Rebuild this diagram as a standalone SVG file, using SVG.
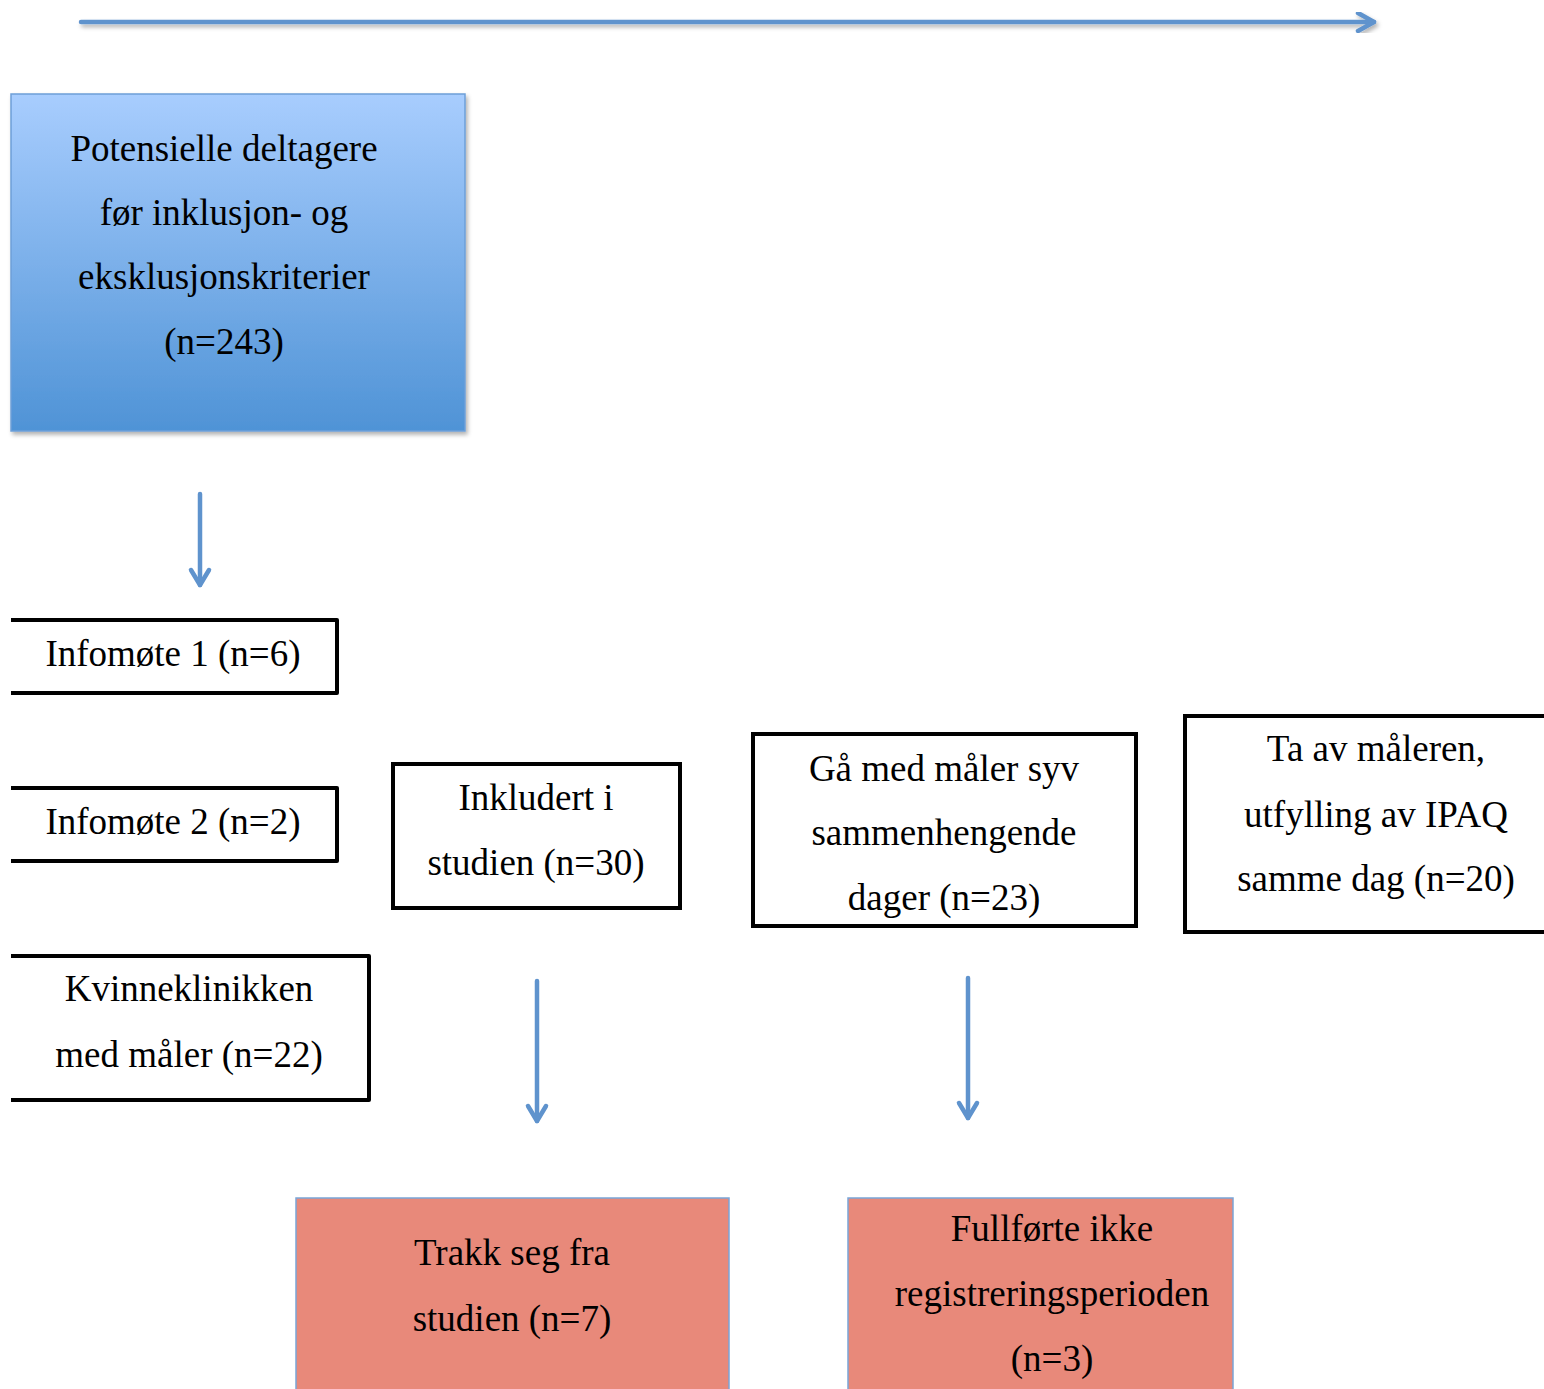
<svg xmlns="http://www.w3.org/2000/svg" width="1544" height="1389" viewBox="0 0 1544 1389">
<style>
text{font-family:"Liberation Serif","Times New Roman",serif;font-size:37px;fill:#000;text-anchor:middle}
.box{fill:#fff;stroke:#000;stroke-width:4}
.edge{fill:none;stroke:#000;stroke-width:4;stroke-linejoin:round}
.red{fill:#e8897a;stroke:#7aa5d8;stroke-width:1.5}
.con{fill:none;stroke:#5f93cd;stroke-width:4.5;stroke-linecap:round;stroke-linejoin:round}
</style>
<defs>
<linearGradient id="gb" x1="0" y1="0" x2="0" y2="1">
<stop offset="0" stop-color="#a8cdfe"/>
<stop offset="1" stop-color="#4f93d6"/>
</linearGradient>
<filter id="sh" x="-5%" y="-5%" width="115%" height="115%">
<feDropShadow dx="2" dy="3" stdDeviation="2" flood-color="#000" flood-opacity="0.3"/>
</filter>
</defs>
<g id="connectors">
<g class="con" filter="url(#sh)">
<path d="M81 22 H1374"/>
<path d="M1358 13 L1374 22 L1358 31"/>
</g>
<g class="con">
<path d="M200 494 V585"/>
<path d="M191 570 L200 585 L209 570"/>
<path d="M537 981 V1121"/>
<path d="M528 1106 L537 1121 L546 1106"/>
<path d="M968 978 V1118"/>
<path d="M959 1103 L968 1118 L977 1103"/>
</g>
</g>
<g id="n-potensielle">
<rect x="11" y="94" width="454" height="337" fill="url(#gb)" stroke="#6d9fd8" stroke-width="1.5" filter="url(#sh)"/>
<text x="224" y="161">Potensielle deltagere</text>
<text x="224" y="225">før inklusjon- og</text>
<text x="224" y="289">eksklusjonskriterier</text>
<text x="224" y="354">(n=243)</text>
</g>
<g id="n-infomote1">
<path class="edge" d="M11 620 H337 V693 H11"/>
<text x="173" y="666">Infomøte 1 (n=6)</text>
</g>
<g id="n-infomote2">
<path class="edge" d="M11 788 H337 V861 H11"/>
<text x="173" y="834">Infomøte 2 (n=2)</text>
</g>
<g id="n-kvinneklinikken">
<path class="edge" d="M11 956 H369 V1100 H11"/>
<text x="189" y="1001">Kvinneklinikken</text>
<text x="189" y="1067">med måler (n=22)</text>
</g>
<g id="n-inkludert">
<rect class="box" x="393" y="764" width="287" height="144"/>
<text x="536" y="810">Inkludert i</text>
<text x="536" y="875">studien (n=30)</text>
</g>
<g id="n-gaa">
<rect class="box" x="753" y="734" width="383" height="192"/>
<text x="944" y="781">Gå med måler syv</text>
<text x="944" y="845">sammenhengende</text>
<text x="944" y="910">dager (n=23)</text>
</g>
<g id="n-taav">
<rect class="box" x="1185" y="716" width="380" height="216"/>
<text x="1376" y="761">Ta av måleren,</text>
<text x="1376" y="827">utfylling av IPAQ</text>
<text x="1376" y="891">samme dag (n=20)</text>
</g>
<g id="n-trakk">
<rect class="red" x="296" y="1198" width="433" height="210"/>
<text x="512" y="1265">Trakk seg fra</text>
<text x="512" y="1331">studien (n=7)</text>
</g>
<g id="n-fullforte">
<rect class="red" x="848" y="1198" width="385" height="210"/>
<text x="1052" y="1241">Fullførte ikke</text>
<text x="1052" y="1306">registreringsperioden</text>
<text x="1052" y="1371">(n=3)</text>
</g>
</svg>
